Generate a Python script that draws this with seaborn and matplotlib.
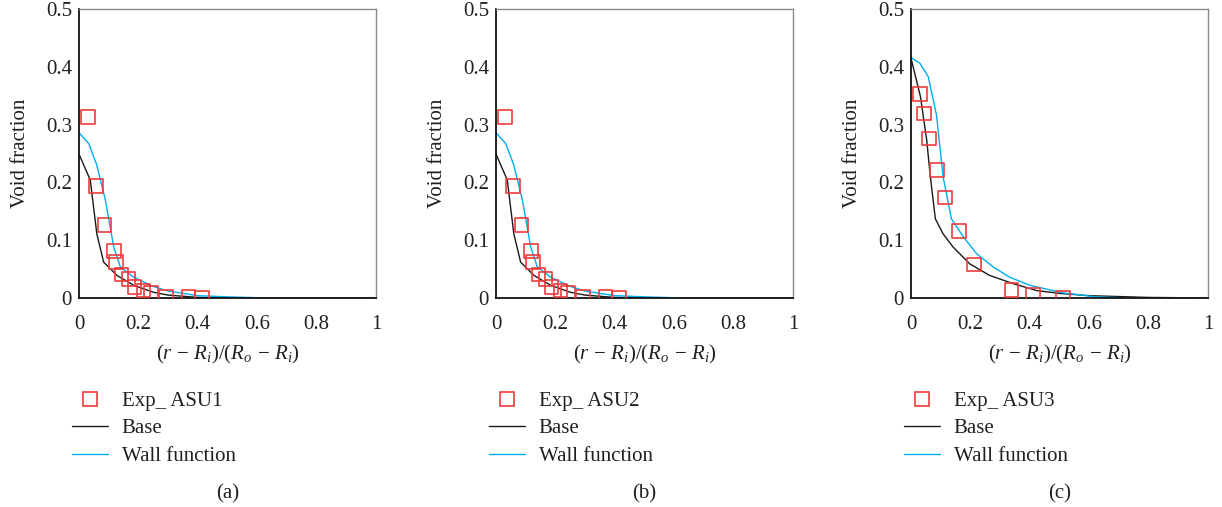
import numpy as np
import pandas as pd
import matplotlib
matplotlib.use("Agg")
import matplotlib.pyplot as plt
import seaborn as sns
from matplotlib.lines import Line2D

# ---------------- data ----------------
# Panel (a) / (b) experimental points
exp_ab_x = [0.031, 0.058, 0.086, 0.117, 0.124, 0.143, 0.167, 0.187, 0.217, 0.242, 0.293, 0.369, 0.414]
exp_ab_y = [0.313, 0.194, 0.126, 0.081, 0.062, 0.041, 0.033, 0.019, 0.013, 0.009, 0.002, 0.002, 0.0]
base_ab_x = [0.0, 0.038, 0.06, 0.083, 0.128, 0.184, 0.25, 0.3, 0.4, 0.5, 0.6, 0.8, 1.0]
base_ab_y = [0.249, 0.204, 0.111, 0.062, 0.039, 0.022, 0.01, 0.005, 0.001, 0.0, 0.0, 0.0, 0.0]
wall_ab_x = [0.0, 0.033, 0.06, 0.089, 0.117, 0.139, 0.184, 0.25, 0.3, 0.4, 0.5, 0.6, 0.8, 1.0]
wall_ab_y = [0.286, 0.267, 0.23, 0.169, 0.088, 0.054, 0.036, 0.02, 0.012, 0.004, 0.002, 0.0005, 0.0, 0.0]

# Panel (c)
exp_c_x = [0.030, 0.044, 0.060, 0.088, 0.114, 0.162, 0.213, 0.338, 0.411, 0.511]
exp_c_y = [0.353, 0.319, 0.276, 0.221, 0.174, 0.116, 0.058, 0.014, 0.005, 0.0]
base_c_x = [0.0, 0.032, 0.053, 0.064, 0.082, 0.108, 0.142, 0.198, 0.265, 0.343, 0.422, 0.5, 0.6, 0.8, 1.0]
base_c_y = [0.415, 0.348, 0.273, 0.215, 0.137, 0.111, 0.088, 0.059, 0.039, 0.025, 0.013, 0.008, 0.004, 0.001, 0.0]
wall_c_x = [0.0, 0.030, 0.058, 0.086, 0.108, 0.136, 0.176, 0.22, 0.276, 0.332, 0.4, 0.511, 0.623, 0.735, 1.0]
wall_c_y = [0.416, 0.406, 0.383, 0.316, 0.21, 0.137, 0.106, 0.077, 0.054, 0.036, 0.022, 0.009, 0.002, 0.0, 0.0]

exp_labels = ["Exp_ ASU1", "Exp_ ASU2", "Exp_ ASU3"]
captions = ["(a)", "(b)", "(c)"]
x_ticks = [0, 0.2, 0.4, 0.6, 0.8, 1]
x_ticklabels = ["0", "0.2", "0.4", "0.6", "0.8", "1"]
y_ticks = [0, 0.1, 0.2, 0.3, 0.4, 0.5]
y_ticklabels = ["0", "0.1", "0.2", "0.3", "0.4", "0.5"]

panels = [
    (exp_ab_x, exp_ab_y, base_ab_x, base_ab_y, wall_ab_x, wall_ab_y),
    (exp_ab_x, exp_ab_y, base_ab_x, base_ab_y, wall_ab_x, wall_ab_y),
    (exp_c_x, exp_c_y, base_c_x, base_c_y, wall_c_x, wall_c_y),
]

# ---------------- style ----------------
sns.set_theme(style="white")
plt.rcParams["font.family"] = ["Liberation Serif", "DejaVu Serif"]
plt.rcParams["mathtext.fontset"] = "custom"
plt.rcParams["mathtext.rm"] = "Liberation Serif"
plt.rcParams["mathtext.it"] = "Liberation Serif:italic"

TXT = "#231f20"
RED = "#ee3b3b"
BLUE = "#00aeef"
BLACK = "#1a1a1a"
FS = 15

W, H = 1222, 507
fig = plt.figure(figsize=(W / 100, H / 100), dpi=100)
lefts = [79, 496, 911]
ax_w, ax_top, ax_bot = 297, 9, 298

for i, (ex, ey, bx, by, wx, wy) in enumerate(panels):
    ax = fig.add_axes([lefts[i] / W, (H - ax_bot) / H, ax_w / W, (ax_bot - ax_top) / H])
    df_exp = pd.DataFrame({"x": ex, "y": ey})
    df_base = pd.DataFrame({"x": bx, "y": by})
    df_wall = pd.DataFrame({"x": wx, "y": wy})
    sns.lineplot(data=df_base, x="x", y="y", ax=ax, color=BLACK, lw=1.0, sort=False)
    sns.lineplot(data=df_wall, x="x", y="y", ax=ax, color=BLUE, lw=1.0, sort=False)
    sns.scatterplot(data=df_exp, x="x", y="y", ax=ax, marker="s", s=95,
                    facecolor="none", edgecolor=RED, linewidth=1.2, zorder=5)
    ax.set_xlim(0, 1)
    ax.set_ylim(0, 0.5)
    ax.set_xticks(x_ticks)
    ax.set_xticklabels(x_ticklabels)
    ax.set_yticks(y_ticks)
    ax.set_yticklabels(y_ticklabels)
    ax.tick_params(axis="both", length=0, labelsize=FS, colors=TXT)
    ax.tick_params(axis="x", pad=12)
    ax.tick_params(axis="y", pad=5)
    for s in ["left", "bottom"]:
        ax.spines[s].set_color("#111111")
        ax.spines[s].set_linewidth(1.3)
    for s in ["top", "right"]:
        ax.spines[s].set_color("#8a8a8a")
        ax.spines[s].set_linewidth(1.0)
    ax.set_xlabel(r"$(r\,-\,R_i)/(R_o\,-\,R_i)$", fontsize=FS, color=TXT, labelpad=7)
    ax.set_ylabel("Void fraction", fontsize=FS, color=TXT)
    ax.yaxis.set_label_coords(-0.165, 0.5)

    handles = [
        Line2D([], [], marker="s", ls="none", markersize=9.5, markerfacecolor="none",
               markeredgecolor=RED, markeredgewidth=1.2),
        Line2D([], [], color=BLACK, lw=1.0),
        Line2D([], [], color=BLUE, lw=1.0),
    ]
    leg = ax.legend(handles, [exp_labels[i], "Base", "Wall function"], loc="upper left",
                    bbox_to_anchor=(-0.025, -0.323), frameon=False, fontsize=FS,
                    handlelength=1.75, handletextpad=0.65, labelspacing=0.38, borderpad=0,
                    borderaxespad=0)
    for t in leg.get_texts():
        t.set_color(TXT)
    fig.text((lefts[i] + ax_w / 2) / W, 1 - 494 / H, captions[i], ha="center", va="center",
             fontsize=FS, color=TXT)

fig.savefig("out.png", dpi=100)
